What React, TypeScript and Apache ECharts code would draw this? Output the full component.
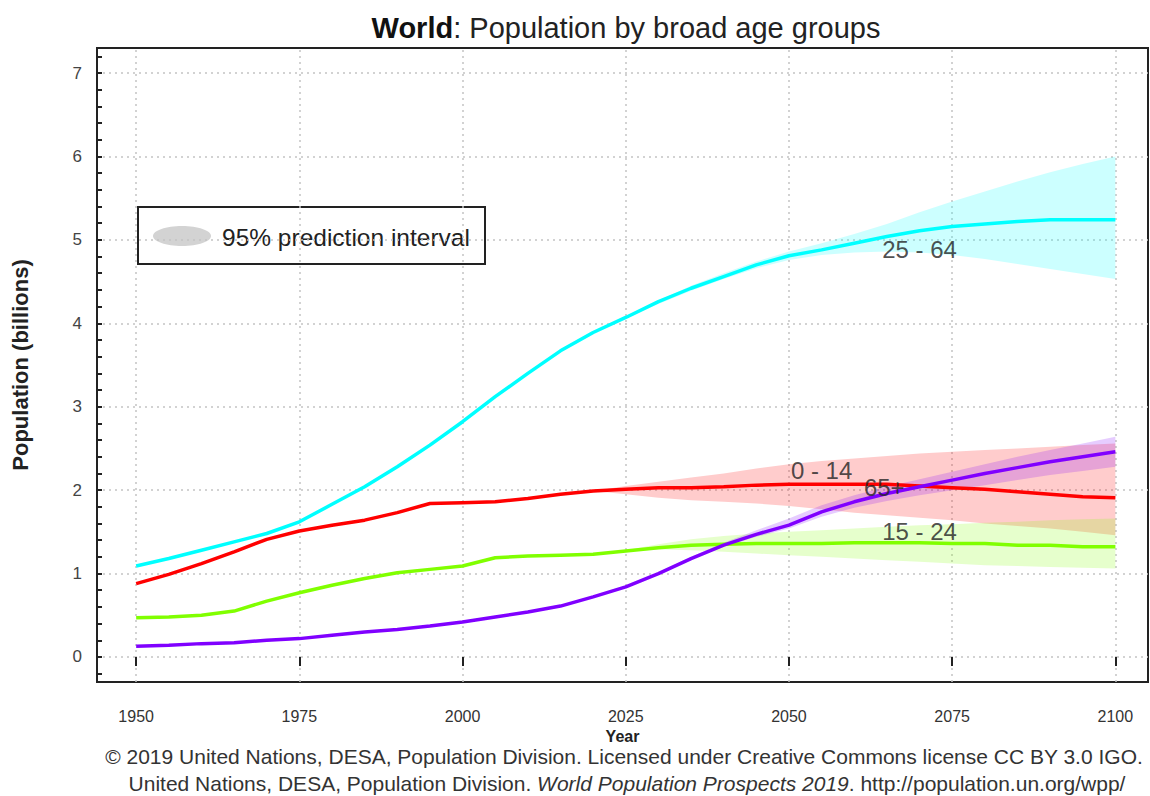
import React, { useEffect, useRef } from "react";
import * as echarts from "echarts";

const FONT = '"Liberation Sans", Arial, Helvetica, sans-serif';

const years = [1950, 1955, 1960, 1965, 1970, 1975, 1980, 1985, 1990, 1995, 2000, 2005, 2010, 2015, 2020, 2025, 2030, 2035, 2040, 2045, 2050, 2055, 2060, 2065, 2070, 2075, 2080, 2085, 2090, 2095, 2100];

const age25to64 = [1.09, 1.18, 1.28, 1.38, 1.48, 1.62, 1.83, 2.04, 2.28, 2.54, 2.82, 3.12, 3.40, 3.67, 3.89, 4.07, 4.26, 4.42, 4.56, 4.70, 4.81, 4.88, 4.96, 5.04, 5.11, 5.16, 5.19, 5.22, 5.24, 5.24, 5.24];
const age0to14 = [0.88, 0.99, 1.12, 1.26, 1.41, 1.51, 1.58, 1.64, 1.73, 1.84, 1.85, 1.86, 1.90, 1.95, 1.99, 2.01, 2.03, 2.03, 2.04, 2.06, 2.07, 2.07, 2.07, 2.07, 2.05, 2.03, 2.01, 1.98, 1.95, 1.92, 1.91];
const age15to24 = [0.47, 0.48, 0.50, 0.55, 0.67, 0.77, 0.86, 0.94, 1.01, 1.05, 1.09, 1.19, 1.21, 1.22, 1.23, 1.27, 1.31, 1.34, 1.35, 1.36, 1.36, 1.36, 1.37, 1.37, 1.37, 1.36, 1.36, 1.34, 1.34, 1.32, 1.32];
const age65plus = [0.13, 0.14, 0.16, 0.17, 0.20, 0.22, 0.26, 0.30, 0.33, 0.37, 0.42, 0.48, 0.54, 0.61, 0.72, 0.84, 1.00, 1.18, 1.34, 1.47, 1.58, 1.74, 1.86, 1.96, 2.04, 2.12, 2.20, 2.27, 2.34, 2.40, 2.46];

const projYears = [2020, 2025, 2030, 2035, 2040, 2045, 2050, 2055, 2060, 2065, 2070, 2075, 2080, 2085, 2090, 2095, 2100];

const age25to64Lower = [3.89, 4.06, 4.23, 4.39, 4.53, 4.66, 4.76, 4.82, 4.85, 4.86, 4.85, 4.82, 4.77, 4.71, 4.65, 4.59, 4.53];
const age25to64Upper = [3.89, 4.08, 4.27, 4.45, 4.60, 4.74, 4.86, 4.96, 5.07, 5.19, 5.33, 5.46, 5.58, 5.70, 5.81, 5.91, 6.00];
const age0to14Lower = [1.99, 1.95, 1.91, 1.88, 1.86, 1.84, 1.81, 1.77, 1.73, 1.70, 1.67, 1.64, 1.60, 1.57, 1.54, 1.50, 1.46];
const age0to14Upper = [1.99, 2.05, 2.10, 2.15, 2.20, 2.26, 2.31, 2.35, 2.38, 2.41, 2.44, 2.46, 2.48, 2.50, 2.52, 2.54, 2.56];
const age15to24Lower = [1.23, 1.26, 1.29, 1.28, 1.26, 1.24, 1.22, 1.20, 1.18, 1.16, 1.14, 1.12, 1.10, 1.09, 1.08, 1.07, 1.06];
const age15to24Upper = [1.23, 1.28, 1.35, 1.41, 1.45, 1.48, 1.50, 1.52, 1.54, 1.56, 1.58, 1.59, 1.61, 1.62, 1.64, 1.65, 1.66];
const age65plusLower = [0.72, 0.84, 0.99, 1.17, 1.32, 1.44, 1.54, 1.68, 1.79, 1.87, 1.94, 2.00, 2.06, 2.12, 2.18, 2.23, 2.28];
const age65plusUpper = [0.72, 0.85, 1.01, 1.20, 1.37, 1.52, 1.66, 1.82, 1.94, 2.04, 2.13, 2.22, 2.31, 2.40, 2.48, 2.56, 2.64];

const xTickValues = [1950, 1975, 2000, 2025, 2050, 2075, 2100];
const yTickValues = [0, 1, 2, 3, 4, 5, 6, 7];

const curveLabels = ["25 - 64", "0 - 14", "65+", "15 - 24"];
const curveLabelYears = [2070, 2055, 2064.6, 2070];
const curveLabelValues = [4.88, 2.23, 2.03, 1.51];

const yMinorTicks = Array.from({ length: 38 }, (_, i) => Math.round((-0.2 + i * 0.2) * 10) / 10);

function pairs(xs: number[], ys: number[]) {
  return xs.map((x, i) => [x, ys[i]]);
}

function band(id: string, lower: number[], upper: number[], color: string) {
  return {
    type: "custom",
    id,
    silent: true,
    z: 1,
    clip: true,
    data: [[projYears[0], lower[0]]],
    renderItem: (_params: any, api: any) => {
      const top = projYears.map((x, i) => api.coord([x, upper[i]]));
      const bottom = projYears.map((x, i) => api.coord([x, lower[i]])).reverse();
      return {
        type: "polygon",
        shape: { points: top.concat(bottom) },
        style: { fill: color },
      };
    },
  };
}

function mainLine(name: string, values: number[], color: string) {
  return {
    type: "line",
    name,
    data: pairs(years, values),
    symbol: "none",
    lineStyle: { color, width: 3.5 },
    itemStyle: { color },
    z: 3,
  };
}

export default function App() {
  const ref = useRef<HTMLDivElement>(null);

  useEffect(() => {
    if (!ref.current) return;
    const chart = echarts.init(ref.current, undefined, { renderer: "svg" });

    const gridLineStyle = { color: "#c4c4c4", width: 1.5, type: [2, 4] as any };

    const option: any = {
      animation: false,
      backgroundColor: "#ffffff",
      textStyle: { fontFamily: FONT },
      title: [
        {
          text: "{b|World}: Population by broad age groups",
          left: 626,
          top: 13,
          textAlign: "center",
          padding: 0,
          textStyle: {
            fontFamily: FONT,
            fontSize: 29,
            fontWeight: "normal",
            color: "#222",
            rich: {
              b: { fontFamily: FONT, fontSize: 29, fontWeight: "bold", color: "#111" },
            },
          },
        },
        {
          text: "© 2019 United Nations, DESA, Population Division. Licensed under Creative Commons license CC BY 3.0 IGO.",
          left: 624,
          top: 746,
          textAlign: "center",
          padding: 0,
          textStyle: { fontFamily: FONT, fontSize: 21, fontWeight: "normal", color: "#333" },
        },
        {
          text: "United Nations, DESA, Population Division. {i|World Population Prospects 2019}. http://population.un.org/wpp/",
          left: 627,
          top: 772,
          textAlign: "center",
          padding: 0,
          textStyle: {
            fontFamily: FONT,
            fontSize: 21,
            lineHeight: 22,
            fontWeight: "normal",
            color: "#333",
            rich: {
              i: { fontFamily: FONT, fontSize: 21, lineHeight: 22, fontStyle: "italic", color: "#333" },
            },
          },
        },
      ],
      grid: {
        left: 97,
        top: 48,
        width: 1051,
        height: 634,
        show: true,
        borderColor: "#222",
        borderWidth: 2,
        backgroundColor: "transparent",
      },
      xAxis: {
        type: "value",
        min: 1944,
        max: 2105,
        axisLine: { show: false },
        axisTick: {
          show: true,
          customValues: xTickValues,
          length: 9,
          inside: false,
          lineStyle: { color: "#222", width: 2 },
        },
        axisLabel: {
          customValues: xTickValues,
          formatter: (v: number) => String(v),
          fontFamily: FONT,
          fontSize: 16,
          color: "#333",
          margin: 26,
        },
        splitLine: { show: false },
        name: "Year",
        nameLocation: "middle",
        nameGap: 46,
        nameTextStyle: { fontFamily: FONT, fontSize: 16, fontWeight: "bold", color: "#222" },
      },
      yAxis: {
        type: "value",
        min: -0.3,
        max: 7.3,
        axisLine: { show: false },
        axisTick: {
          show: true,
          customValues: yMinorTicks,
          length: 5,
          inside: true,
          lineStyle: { color: "#222", width: 2 },
        },
        axisLabel: {
          customValues: yTickValues,
          formatter: (v: number) => String(v),
          fontFamily: FONT,
          fontSize: 17,
          color: "#444",
          margin: 15,
        },
        splitLine: { show: false },
        name: "Population (billions)",
        nameLocation: "middle",
        nameRotate: 90,
        nameGap: 66,
        nameTextStyle: { fontFamily: FONT, fontSize: 22, fontWeight: "bold", color: "#222" },
      },
      series: [
        {
          type: "line",
          id: "gridlines",
          data: [],
          silent: true,
          markLine: {
            silent: true,
            symbol: "none",
            z: 0,
            label: { show: false },
            lineStyle: gridLineStyle,
            emphasis: { disabled: true },
            data: [
              ...xTickValues.map((v) => ({ xAxis: v })),
              ...yTickValues.map((v) => ({ yAxis: v })),
            ],
          },
        },
        band("b2564", age25to64Lower, age25to64Upper, "rgba(0,255,255,0.2)"),
        band("b0014", age0to14Lower, age0to14Upper, "rgba(255,0,0,0.2)"),
        band("b1524", age15to24Lower, age15to24Upper, "rgba(128,255,0,0.2)"),
        band("b65", age65plusLower, age65plusUpper, "rgba(128,0,255,0.2)"),
        mainLine("25 - 64", age25to64, "#00ffff"),
        mainLine("0 - 14", age0to14, "#ff0000"),
        mainLine("15 - 24", age15to24, "#80ff00"),
        mainLine("65+", age65plus, "#8000ff"),
        {
          type: "scatter",
          id: "labels",
          silent: true,
          symbolSize: 1,
          itemStyle: { color: "rgba(0,0,0,0)" },
          z: 4,
          data: curveLabels.map((t, i) => ({ name: t, value: [curveLabelYears[i], curveLabelValues[i]] })),
          label: {
            show: true,
            position: "inside",
            formatter: (p: any) => p.name,
            fontFamily: FONT,
            fontSize: 24,
            color: "#222",
          },
        },
      ],
      graphic: [
        {
          type: "group",
          z: 100,
          children: [
            {
              type: "rect",
              shape: { x: 138, y: 207, width: 347, height: 57 },
              style: { fill: "#ffffff", stroke: "#222", lineWidth: 2 },
            },
            {
              type: "ellipse",
              shape: { cx: 182, cy: 236, rx: 29, ry: 10 },
              style: { fill: "#d3d3d3" },
            },
            {
              type: "text",
              x: 222,
              y: 237,
              style: {
                text: "95% prediction interval",
                fontFamily: FONT,
                fontSize: 24.5,
                fill: "#222",
                textAlign: "left",
                textVerticalAlign: "middle",
                align: "left",
                verticalAlign: "middle",
              },
            },
          ],
        },
      ],
    };

    chart.setOption(option);
    return () => chart.dispose();
  }, []);

  return (
    <div
      ref={ref}
      style={{ position: "absolute", left: 0, top: 0, width: 1150, height: 796 }}
    />
  );
}
